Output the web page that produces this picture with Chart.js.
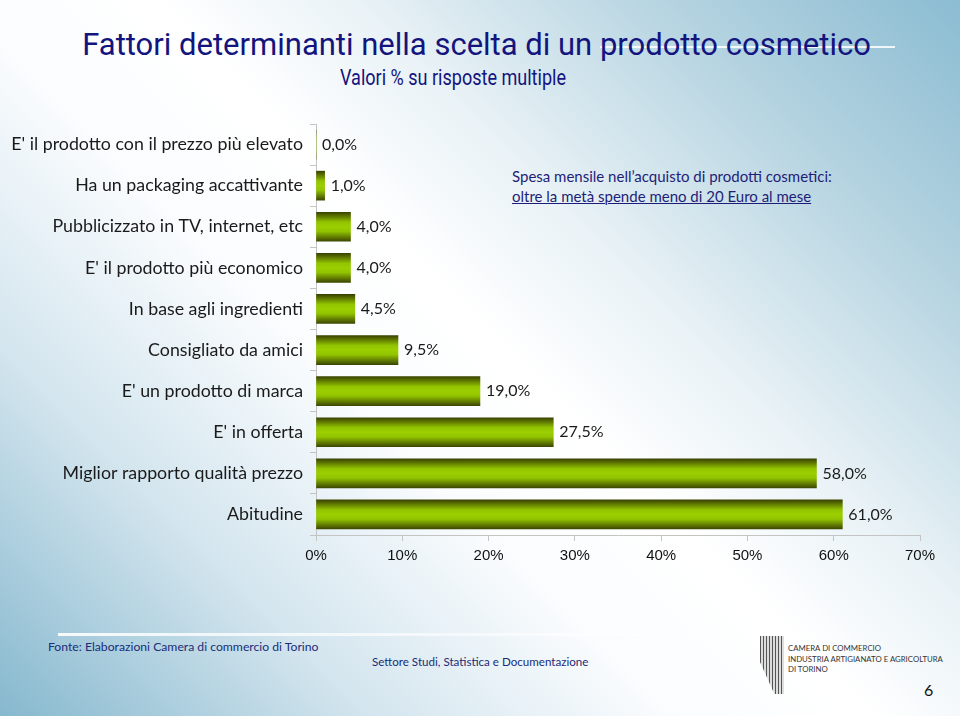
<!DOCTYPE html>
<html>
<head>
<meta charset="utf-8">
<script src="https://cdn.jsdelivr.net/npm/chart.js@4.4.1/dist/chart.umd.min.js"></script>
<style>
  html, body { margin: 0; padding: 0; }
  body {
    width: 960px; height: 716px; position: relative; overflow: hidden;
    background: linear-gradient(45deg, #86b8ce 0%, #d3e5ee 22%, #fafcfe 40%, #ffffff 52%, #e9f2f6 64%, #b6d4e1 82%, #8bbcd2 100%);
    font-family: Lato, "Open Sans", sans-serif;
  }
  #wrap { position: absolute; left: 0; top: 0; width: 960px; height: 716px; }
  .t { position: absolute; white-space: nowrap; }
  #title { top: 26px; left: 0; width: 953px; text-align: center; font-family: Roboto, sans-serif; font-size: 31px; color: #14147e; }
  #subtitle { top: 65px; left: 0; width: 906px; text-align: center; font-family: Roboto, sans-serif; font-size: 22px; color: #14147e; transform: scaleX(0.82); }
  #tline { position: absolute; left: 600px; top: 46px; width: 295px; height: 2px; background: rgba(255,255,255,0.85); }
  #note { left: 512px; top: 166px; font-size: 15px; line-height: 20px; color: #1e1e78; }
  #note u { text-decoration-thickness: 1px; }
  #fline { position: absolute; left: 58px; top: 633px; width: 640px; height: 3px; background: linear-gradient(90deg, rgba(255,255,255,0.9), rgba(255,255,255,0.4)); }
  #src { left: 48px; top: 639px; font-size: 12.2px; color: #1b2c78; }
  #dept { left: 372px; top: 655px; font-size: 11.6px; color: #1b2c78; }
  #logo { position: absolute; left: 760px; top: 636px; width: 24px; height: 58px;
    background: repeating-linear-gradient(90deg, #555 0 1px, #ddd 1px 3px); clip-path: polygon(0 0, 100% 0, 100% 100%, 60% 100%, 0 45%); }
  #lt { left: 788px; top: 643px; font-size: 7.8px; line-height: 10.5px; color: #333; }
  #pg { left: 924px; top: 680px; font-size: 16px; color: #111; }
</style>
</head>
<body>
<div id="tline"></div>
<div class="t" id="title">Fattori determinanti nella scelta di un prodotto cosmetico</div>
<div class="t" id="subtitle">Valori % su risposte multiple</div>
<div class="t" id="note">Spesa mensile nell’acquisto di prodotti cosmetici:<br><u>oltre la metà spende meno di 20 Euro al mese</u></div>
<div id="fline"></div>
<div class="t" id="src">Fonte: Elaborazioni Camera di commercio di Torino</div>
<div class="t" id="dept">Settore Studi, Statistica e Documentazione</div>
<div id="logo"></div>
<div class="t" id="lt">CAMERA DI COMMERCIO<br>INDUSTRIA ARTIGIANATO E AGRICOLTURA<br>DI TORINO</div>
<div class="t" id="pg">6</div>
<div id="wrap"><canvas id="myChart"></canvas></div>

<script>
const categories = [
  "E' il prodotto con il prezzo più elevato",
  "Ha un packaging accattivante",
  "Pubblicizzato in TV, internet, etc",
  "E' il prodotto più economico",
  "In base agli ingredienti",
  "Consigliato da amici",
  "E' un prodotto di marca",
  "E' in offerta",
  "Miglior rapporto qualità prezzo",
  "Abitudine",
];
const values = [0, 1, 4, 4, 4.5, 9.5, 19, 27.5, 58, 61];
const xMax = 70;
const xStep = 10;

const BAR_H = 29;
const labelFont = { family: "Lato, 'Open Sans', sans-serif", size: 17.8 };

// olive green bar with the shaded 3D look
function barFill(context) {
  const chart = context.chart;
  const y = chart.scales.y;
  if (!y || context.dataIndex === undefined) return "#92c300";
  const cy = y.getPixelForValue(context.dataIndex);
  if (!isFinite(cy)) return "#92c300";
  const g = chart.ctx.createLinearGradient(0, cy - BAR_H / 2, 0, cy + BAR_H / 2);
  g.addColorStop(0, "#3a4400");
  g.addColorStop(0.12, "#5a7000");
  g.addColorStop(0.34, "#92c400");
  g.addColorStop(0.5, "#9ccf00");
  g.addColorStop(0.66, "#92c400");
  g.addColorStop(0.88, "#5c7300");
  g.addColorStop(1, "#3c4800");
  return g;
}

const valueLabels = {
  id: "valueLabels",
  afterDatasetsDraw(chart) {
    const ctx = chart.ctx;
    const meta = chart.getDatasetMeta(0);
    ctx.save();
    ctx.font = "16px Lato, 'Open Sans', sans-serif";
    ctx.fillStyle = "#1a1a1a";
    ctx.textBaseline = "middle";
    ctx.textAlign = "left";
    meta.data.forEach((bar, i) => {
      const txt = values[i].toFixed(1).replace(".", ",") + "%";
      ctx.fillText(txt, bar.x + 6, bar.y);
    });
    ctx.restore();
  },
};

const config = {
  type: "bar",
  data: {
    labels: categories,
    datasets: [
      {
        data: values,
        backgroundColor: barFill,
        borderWidth: 0,
        barThickness: BAR_H,
      },
    ],
  },
  options: {
    indexAxis: "y",
    responsive: true,
    maintainAspectRatio: false,
    animation: false,
    layout: { padding: { top: 124, right: 40, bottom: 141, left: 0 } },
    plugins: {
      legend: { display: false },
      tooltip: { enabled: false },
    },
    scales: {
      x: {
        min: 0,
        max: xMax,
        ticks: {
          stepSize: xStep,
          callback: (v) => v + "%",
          color: "#111",
          font: { family: "'Liberation Sans', Arial, sans-serif", size: 15 },
          padding: 6,
        },
        grid: { drawOnChartArea: false, tickLength: 6, color: "#c4c4c4" },
        border: { color: "#c4c4c4" },
        afterFit: (s) => { s.height = 40; },
      },
      y: {
        ticks: { color: "#1a1a1a", font: labelFont, padding: 7, autoSkip: false },
        grid: { drawOnChartArea: false, offset: true, tickLength: 6, color: "#c4c4c4" },
        border: { color: "#c4c4c4" },
        afterFit: (s) => { s.width = 316; },
      },
    },
  },
  plugins: [valueLabels],
};

new Chart(document.getElementById("myChart"), config);
</script>
</body>
</html>
